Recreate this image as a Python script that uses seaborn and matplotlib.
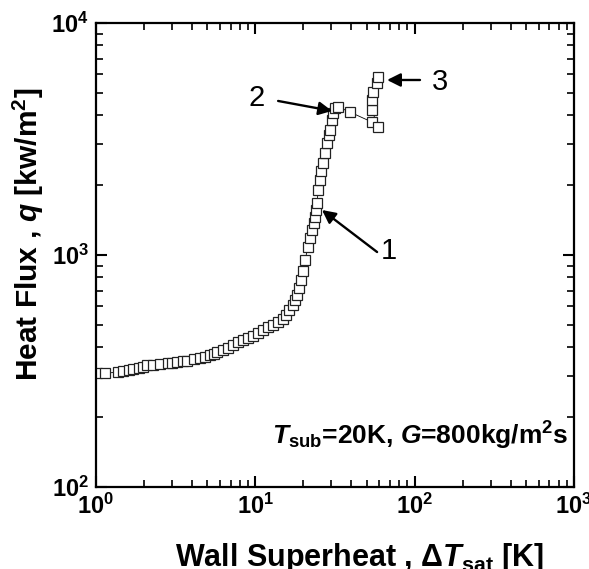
import matplotlib
matplotlib.use("Agg")
import matplotlib.pyplot as plt
import seaborn as sns
import pandas as pd

# Wall superheat [K]
superheat = [1.01, 1.14, 1.37, 1.48, 1.6, 1.71, 1.85, 1.97, 2.1, 2.28, 2.52, 2.83,
             3.0, 3.22, 3.5, 3.73, 4.1, 4.5, 4.8, 5.2, 5.5, 5.75, 6.27, 6.7, 7.24,
             7.8, 8.37, 9.0, 9.67, 10.4, 11.2, 12.0, 12.9, 13.8, 14.9, 15.6, 16.3,
             17.2, 17.8, 18.3, 18.8, 19.3, 19.8, 20.5, 21.4, 22.0, 22.7, 23.2, 23.7,
             24.1, 24.4, 24.8, 25.5, 26.0, 26.6, 27.4, 28.2, 29.0, 29.4, 30.3, 30.7,
             31.7, 33.0, 39.3, 54.0, 58.9, 54.0, 54.0, 55.0, 58.0, 58.9]
# Heat flux [kW/m2]
heat_flux = [310, 310, 312, 315, 320, 322, 326, 330, 334, 336, 340, 342,
             344, 345, 348, 350, 355, 360, 365, 370, 375, 380, 390, 398, 410,
             420, 431, 438, 448, 460, 476, 488, 500, 512, 530, 550, 580,
             610, 640, 670, 720, 780, 850, 950, 1080, 1180, 1280, 1380, 1460,
             1560, 1680, 1900, 2100, 2300, 2500, 2750, 3040, 3300, 3460, 3820, 4100,
             4300, 4350, 4130, 3740, 3560, 4200, 4650, 5040, 5510, 5850]

# Annotation labels and their arrow (tail, tip) positions in data units
labels = ["1", "2", "3"]
label_pos = [(69, 1040), (10.25, 4750), (144, 5570)]
arrow_tail = [(58.1, 1030), (13.9, 4613), (108, 5680)]
arrow_tip = [(26.2, 1563), (30.3, 4178), (67.1, 5680)]

df = pd.DataFrame({"dT": superheat, "q": heat_flux})

sns.set_theme(style="ticks")
plt.rcParams["font.family"] = ["Liberation Sans", "DejaVu Sans"]
plt.rcParams["mathtext.fontset"] = "custom"
plt.rcParams["mathtext.rm"] = "Liberation Sans:bold"
plt.rcParams["mathtext.bf"] = "Liberation Sans:bold"
plt.rcParams["mathtext.it"] = "Liberation Sans:bold:italic"
plt.rcParams["mathtext.sf"] = "Liberation Sans:bold"
for k in ["text.color", "axes.labelcolor", "xtick.color", "ytick.color", "axes.edgecolor"]:
    plt.rcParams[k] = "black"

fig = plt.figure(figsize=(5.89, 5.69), dpi=100)
ax = fig.add_axes([96 / 589, 1 - 487 / 569, 478 / 589, 464 / 569])

sns.lineplot(data=df, x="dT", y="q", ax=ax, sort=False, estimator=None,
             color="black", linewidth=0.6, marker="s", markersize=7.8,
             markerfacecolor="white", markeredgecolor="#222222",
             markeredgewidth=0.9)

ax.set_xscale("log")
ax.set_yscale("log")
ax.set_xlim(1, 1000)
ax.set_ylim(100, 10000)

for sp in ax.spines.values():
    sp.set_linewidth(1.6)
    sp.set_color("black")
    sp.set_visible(True)

ax.tick_params(which="both", direction="in", top=True, right=True, colors="black")
ax.tick_params(which="major", length=8, width=1.5, labelsize=17, pad=5)
ax.tick_params(which="minor", length=5, width=1.2)
for lab in ax.get_xticklabels() + ax.get_yticklabels():
    lab.set_fontweight("bold")

ax.set_xlabel(r"Wall Superheat , $\mathit{\Delta T}_{\mathrm{sat}}$ [K]",
              fontsize=22, fontweight="bold")
ax.set_ylabel(r"Heat Flux , $\mathit{q}$ [kw/m$^{2}$]",
              fontsize=21.5, fontweight="bold")
ax.xaxis.set_label_coords(0.552, -0.117)
ax.yaxis.set_label_coords(-0.105, 0.545)

ax.text(0.368, 0.0905, r"$\mathit{T}_{\mathrm{sub}}$=20K, $\mathit{G}$=800kg/m$^{2}$s",
        transform=ax.transAxes, fontsize=19, fontweight="bold", ha="left",
        va="baseline")

for lab, pos, tail, tip in zip(labels, label_pos, arrow_tail, arrow_tip):
    ax.text(pos[0], pos[1], lab, fontsize=21, ha="center", va="center")
    ax.annotate("", xy=tip, xytext=tail,
                arrowprops=dict(arrowstyle="-|>", color="black", lw=1.7,
                                mutation_scale=20, shrinkA=0, shrinkB=0))

fig.savefig("out.png", dpi=100)
